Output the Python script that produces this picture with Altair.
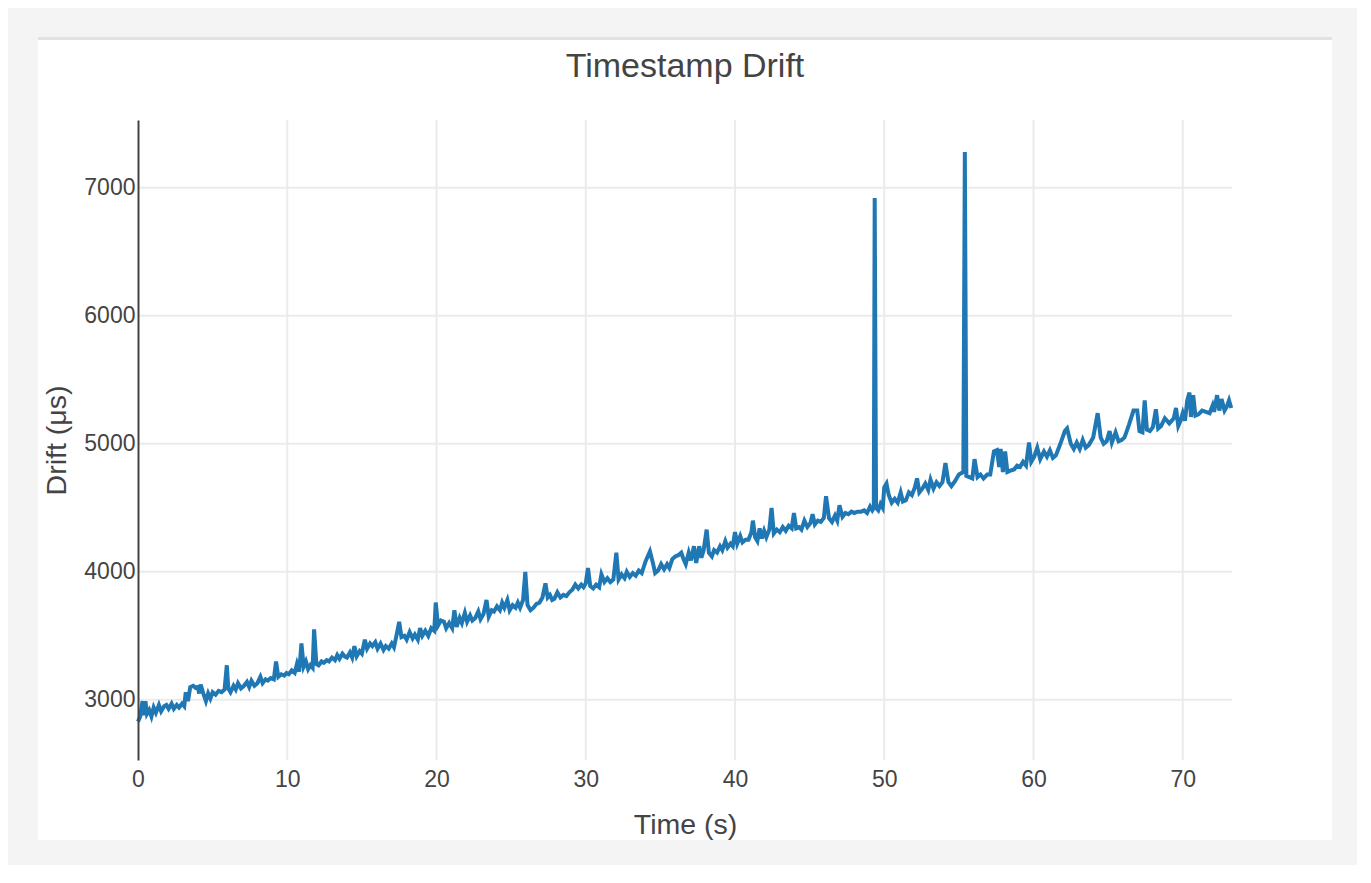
import altair as alt
import pandas as pd

# ---- data ----
time_s = [
    0.0, 0.15, 0.3, 0.4, 0.5, 0.6, 0.75, 0.9, 1.05, 1.2, 1.4, 1.55, 1.75, 1.9, 2.05, 2.25, 2.4, 2.6, 2.75, 2.95,
    3.1, 3.2, 3.35, 3.5, 3.7, 3.85, 4.0, 4.1, 4.2, 4.4, 4.55, 4.7, 4.85, 5.0, 5.2, 5.4, 5.6, 5.8, 5.95, 6.05,
    6.2, 6.4, 6.55, 6.7, 6.9, 7.1, 7.3, 7.45, 7.6, 7.8, 8.0, 8.2, 8.35, 8.55, 8.7, 8.9, 9.1, 9.25, 9.4, 9.6,
    9.8, 9.95, 10.1, 10.3, 10.5, 10.65, 10.8, 10.95, 11.1, 11.25, 11.4, 11.55, 11.7, 11.8, 11.95, 12.1, 12.3, 12.45, 12.65, 12.8,
    13.0, 13.2, 13.35, 13.5, 13.7, 13.85, 14.0, 14.2, 14.35, 14.5, 14.65, 14.85, 15.0, 15.2, 15.35, 15.55, 15.7, 15.9, 16.05, 16.25,
    16.45, 16.6, 16.8, 17.0, 17.15, 17.35, 17.5, 17.65, 17.85, 18.0, 18.2, 18.4, 18.55, 18.75, 18.9, 19.05, 19.25, 19.45, 19.65, 19.85,
    19.95, 20.1, 20.3, 20.5, 20.65, 20.85, 21.05, 21.2, 21.35, 21.55, 21.7, 21.9, 22.05, 22.25, 22.4, 22.6, 22.8, 22.95, 23.15, 23.35,
    23.5, 23.7, 23.85, 24.05, 24.25, 24.4, 24.55, 24.75, 24.9, 25.1, 25.3, 25.45, 25.6, 25.8, 25.95, 26.1, 26.3, 26.5, 26.7, 26.9,
    27.1, 27.3, 27.45, 27.6, 27.75, 27.9, 28.1, 28.3, 28.5, 28.7, 28.9, 29.1, 29.3, 29.5, 29.7, 29.85, 30.0, 30.15, 30.3, 30.5,
    30.7, 30.9, 31.05, 31.25, 31.45, 31.65, 31.85, 32.05, 32.2, 32.4, 32.6, 32.75, 32.95, 33.15, 33.35, 33.55, 33.75, 34.0, 34.3, 34.5,
    34.65, 34.85, 35.05, 35.25, 35.45, 35.6, 35.8, 36.0, 36.2, 36.4, 36.55, 36.7, 36.9, 37.05, 37.25, 37.4, 37.6, 37.75, 37.9, 38.1,
    38.25, 38.45, 38.6, 38.8, 39.0, 39.15, 39.35, 39.5, 39.7, 39.85, 40.0, 40.15, 40.35, 40.5, 40.7, 40.9, 41.1, 41.2, 41.35, 41.5,
    41.65, 41.8, 41.95, 42.1, 42.3, 42.45, 42.6, 42.8, 43.0, 43.2, 43.4, 43.6, 43.8, 43.95, 44.1, 44.3, 44.45, 44.65, 44.85, 45.05,
    45.2, 45.35, 45.55, 45.75, 45.95, 46.1, 46.3, 46.5, 46.7, 46.85, 47.0, 47.2, 47.4, 47.6, 47.8, 48.0, 48.2, 48.45, 48.65, 48.85,
    49.05, 49.2, 49.3, 49.36, 49.45, 49.6, 49.75, 49.9, 50.0, 50.15, 50.3, 50.5, 50.7, 50.9, 51.1, 51.25, 51.45, 51.65, 51.85, 52.05,
    52.2, 52.35, 52.55, 52.75, 52.95, 53.1, 53.3, 53.5, 53.7, 53.9, 54.1, 54.3, 54.5, 54.75, 55.0, 55.3, 55.4, 55.5, 55.7, 55.9,
    56.05, 56.25, 56.45, 56.65, 56.9, 57.1, 57.35, 57.55, 57.7, 57.8, 57.95, 58.1, 58.25, 58.45, 58.7, 58.9, 59.1, 59.3, 59.5, 59.7,
    59.85, 60.05, 60.25, 60.45, 60.7, 60.9, 61.1, 61.3, 61.5, 61.8, 62.1, 62.25, 62.5, 62.7, 62.9, 63.1, 63.3, 63.5, 63.7, 64.0,
    64.3, 64.5, 64.7, 64.9, 65.1, 65.25, 65.5, 65.7, 65.9, 66.1, 66.4, 66.7, 66.95, 67.1, 67.3, 67.45, 67.6, 67.8, 68.0, 68.2,
    68.35, 68.55, 68.8, 69.1, 69.4, 69.55, 69.7, 69.85, 70.0, 70.15, 70.3, 70.45, 70.55, 70.7, 70.85, 71.05, 71.3, 71.55, 71.8, 72.0,
    72.1, 72.3, 72.45, 72.6, 72.8, 72.95, 73.1, 73.25,
]
drift_us = [
    2830, 2870, 2990, 2880, 2990, 2890, 2920, 2870, 2940, 2900, 2960, 2910, 2950, 2960, 2930, 2970, 2930, 2960, 2940, 2970,
    2950, 3060, 2990, 3100, 3110, 3095, 3100, 3050, 3120, 3040, 2990, 3050, 3010, 3060, 3040, 3070, 3060, 3080, 3270, 3090,
    3060, 3110, 3080, 3130, 3090, 3110, 3140, 3100, 3150, 3110, 3130, 3180, 3130, 3160, 3150, 3170, 3160, 3300, 3180, 3200,
    3190, 3210, 3200, 3230, 3210, 3280, 3220, 3440, 3260, 3300, 3240, 3270, 3250, 3550, 3280, 3270, 3300, 3290, 3310, 3300,
    3330, 3310, 3350, 3320, 3360, 3340, 3330, 3370, 3330, 3420, 3340, 3380, 3360, 3470, 3400, 3440, 3420, 3450, 3400, 3440,
    3390, 3420, 3400, 3440, 3410, 3520, 3610, 3490, 3500, 3470, 3530, 3480, 3510, 3470, 3560, 3500, 3540, 3500, 3560, 3540,
    3760, 3580, 3620, 3610, 3560, 3600, 3560, 3700, 3570, 3640, 3600, 3680, 3610, 3660, 3620, 3640, 3690, 3630, 3670, 3780,
    3650, 3700, 3690, 3730, 3700, 3760, 3720, 3780, 3700, 3740, 3720, 3760, 3720, 3780, 4000, 3740, 3700, 3720, 3750, 3760,
    3800, 3910, 3800, 3820, 3780, 3790, 3840, 3800, 3820, 3810, 3840, 3860, 3900, 3870, 3900, 3880, 3910, 4030, 3890, 3870,
    3900, 3880, 3980, 3920, 3950, 3920, 3940, 4150, 3940, 3980, 3950, 4000, 3960, 3990, 3970, 4010, 3990, 4080, 4160, 4070,
    3990, 4010, 4060, 4020, 4060, 4030, 4100, 4120, 4130, 4150, 4100, 4060, 4150, 4090, 4200, 4070, 4200, 4110, 4170, 4330,
    4150, 4120, 4170, 4150, 4200, 4170, 4240, 4190, 4220, 4200, 4310, 4220, 4280, 4230, 4250, 4250, 4310, 4400, 4270, 4240,
    4340, 4260, 4320, 4270, 4330, 4500, 4300, 4330, 4310, 4350, 4320, 4360, 4340, 4460, 4340, 4350, 4330, 4400, 4350, 4380,
    4450, 4370, 4400, 4390, 4420, 4590, 4420, 4390, 4440, 4400, 4520, 4430, 4460, 4450, 4470, 4460, 4470, 4470, 4480, 4460,
    4510, 4480, 4500, 6920, 4500, 4480, 4530, 4500, 4660, 4690, 4600, 4540, 4570, 4540, 4620, 4550, 4560, 4620, 4600, 4660,
    4730, 4620, 4650, 4690, 4640, 4720, 4650, 4700, 4670, 4700, 4850, 4700, 4670, 4710, 4760, 4780, 7280, 4750, 4740, 4730,
    4880, 4740, 4760, 4730, 4760, 4760, 4940, 4950, 4820, 4960, 4780, 4940, 4780, 4790, 4800, 4830, 4820, 4860, 4830, 5010,
    4860, 4900, 4970, 4880, 4940, 4900, 4950, 4890, 4910, 5000, 5100, 5120, 5000, 4960, 5010, 4960, 5030, 4970, 4990, 5050,
    5240, 5050, 5000, 5020, 5100, 5010, 5090, 5020, 5030, 5050, 5150, 5260, 5260, 5100, 5090, 5340, 5110, 5100, 5130, 5270,
    5120, 5140, 5200, 5160, 5200, 5280, 5140, 5180, 5240, 5180, 5340, 5400, 5210, 5380, 5220, 5230, 5260, 5250, 5240, 5300,
    5250, 5380, 5260, 5350, 5260, 5290, 5340, 5280,
]
x_ticks = [0, 10, 20, 30, 40, 50, 60, 70]
y_ticks = [3000, 4000, 5000, 6000, 7000]
x_grid = [10, 20, 30, 40, 50, 60, 70]

df = pd.DataFrame({"t": time_s, "d": drift_us})
xgrid_df = pd.DataFrame({"t": x_grid})
ygrid_df = pd.DataFrame({"d": y_ticks})

W, H = 1094, 640
FONT = "Liberation Sans"
TXT = "#444444"

xscale = alt.Scale(domain=[0, 73.3], nice=False, zero=False)
yscale = alt.Scale(domain=[2530, 7530], nice=False, zero=False)

xaxis = alt.Axis(
    title="Time (s)", values=x_ticks, format="d", grid=False, domain=False, ticks=False,
    labelFontSize=23, labelColor=TXT, labelFont=FONT, labelPadding=8, labelFlush=False,
    titleFontSize=28.5, titleColor=TXT, titleFont=FONT, titleFontWeight="normal",
    titleX=W / 2, titleY=73, titleAlign="center", titleBaseline="alphabetic", zindex=1,
)
yaxis = alt.Axis(
    title="Drift (μs)", values=y_ticks, format="d", grid=False, domain=True,
    domainColor=TXT, domainWidth=2, ticks=False,
    labelFontSize=23, labelColor=TXT, labelFont=FONT, labelPadding=3, labelFlush=False,
    titleFontSize=28.5, titleColor=TXT, titleFont=FONT, titleFontWeight="normal",
    titleX=-73, titleY=H / 2, titleAngle=-90, titleAlign="center", titleBaseline="alphabetic", zindex=1,
)

X = alt.X("t:Q", scale=xscale, axis=xaxis)
Y = alt.Y("d:Q", scale=yscale, axis=yaxis)

one = alt.Data(values=[{"k": 1}])
shadow = alt.Chart(one).mark_rect(color="#e2e2e2").encode(
    x=alt.value(-100), x2=alt.value(1194), y=alt.value(-83), y2=alt.value(720)
)
card = alt.Chart(one).mark_rect(color="white").encode(
    x=alt.value(-100), x2=alt.value(1194), y=alt.value(-80), y2=alt.value(720)
)
xgrid = alt.Chart(xgrid_df).mark_rule(color="#ebebeb", strokeWidth=2).encode(
    x=X, y=alt.value(0), y2=alt.value(H)
)
ygrid = alt.Chart(ygrid_df).mark_rule(color="#ebebeb", strokeWidth=2).encode(
    y=Y, x=alt.value(0), x2=alt.value(W)
)
line = alt.Chart(df).mark_line(color="#1f77b4", strokeWidth=4).encode(x=X, y=Y, order="t:Q")

chart = alt.layer(shadow, card, xgrid, ygrid, line).properties(
    width=W, height=H,
    title=alt.TitleParams("Timestamp Drift", fontSize=34, font=FONT, color=TXT, fontWeight="normal",
                          anchor="middle", baseline="bottom", offset=-81),
    autosize=alt.AutoSizeParams(type="none"),
    padding={"left": 130, "top": 112, "right": 125, "bottom": 105},
    background="#f4f4f4",
).configure_view(strokeWidth=0)

chart.save("out.html", embed_options={"renderer": "svg", "actions": False})
